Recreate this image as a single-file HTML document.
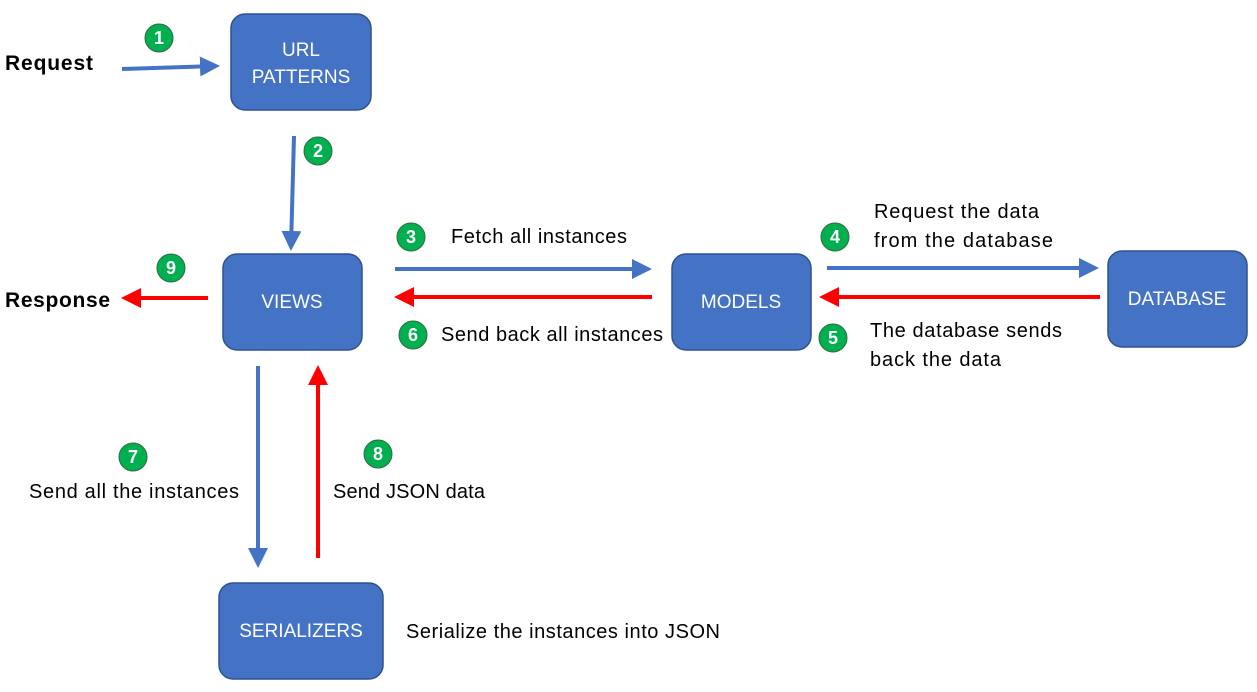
<!DOCTYPE html>
<html><head><meta charset="utf-8"><style>
html,body{margin:0;padding:0;background:#fff;}
svg{display:block}
text{font-family:"Liberation Sans",sans-serif;}
</style></head><body>
<svg width="1257" height="692" viewBox="0 0 1257 692" xmlns="http://www.w3.org/2000/svg">
<defs>
<marker id="ab" markerWidth="5" markerHeight="5" refX="4" refY="2.5" orient="auto" markerUnits="strokeWidth"><path d="M0,0 L5,2.5 L0,5z" fill="#4472C4"/></marker>
<marker id="ar" markerWidth="5" markerHeight="5" refX="4" refY="2.5" orient="auto" markerUnits="strokeWidth"><path d="M0,0 L5,2.5 L0,5z" fill="#FF0000"/></marker>
</defs>
<g fill="#4472C4" stroke="#2F528F" stroke-width="1.5">
<rect x="231" y="14" width="140" height="96" rx="14"/>
<rect x="223" y="254" width="139" height="96" rx="14"/>
<rect x="672" y="254" width="139" height="96" rx="14"/>
<rect x="1108" y="251" width="139" height="96" rx="14"/>
<rect x="219" y="583" width="164" height="96" rx="14"/>
</g>
<g fill="#fff" font-size="19" text-anchor="middle">
<text x="301" y="56">URL</text>
<text x="301" y="83">PATTERNS</text>
<text x="292" y="308">VIEWS</text>
<text x="741" y="308">MODELS</text>
<text x="1177" y="305">DATABASE</text>
<text x="301" y="637">SERIALIZERS</text>
</g>
<g stroke-width="4" fill="none">
<line x1="122" y1="69" x2="216" y2="66" stroke="#4472C4" marker-end="url(#ab)"/>
<line x1="294" y1="136" x2="291" y2="247" stroke="#4472C4" marker-end="url(#ab)"/>
<line x1="395" y1="269" x2="648" y2="269" stroke="#4472C4" marker-end="url(#ab)"/>
<line x1="827" y1="268" x2="1095" y2="268" stroke="#4472C4" marker-end="url(#ab)"/>
<line x1="652" y1="297" x2="398" y2="297" stroke="#FF0000" marker-end="url(#ar)"/>
<line x1="1100" y1="297" x2="823" y2="297" stroke="#FF0000" marker-end="url(#ar)"/>
<line x1="208" y1="298" x2="125" y2="298" stroke="#FF0000" marker-end="url(#ar)"/>
<line x1="258" y1="366" x2="258" y2="564" stroke="#4472C4" marker-end="url(#ab)"/>
<line x1="318" y1="558" x2="318" y2="369" stroke="#FF0000" marker-end="url(#ar)"/>
</g>
<g fill="#00B050" stroke="#2F6B3F" stroke-width="1">
<circle cx="159" cy="38" r="14"/><circle cx="318" cy="151" r="14"/>
<circle cx="411" cy="237" r="14"/><circle cx="835" cy="237" r="14"/>
<circle cx="833" cy="338" r="14"/><circle cx="413" cy="335" r="14"/>
<circle cx="133" cy="457" r="14"/><circle cx="378" cy="454" r="14"/>
<circle cx="171" cy="268" r="14"/>
</g>
<g fill="#fff" font-size="18" font-weight="bold" text-anchor="middle">
<text x="159" y="44">1</text><text x="318" y="157">2</text>
<text x="411" y="243">3</text><text x="835" y="243">4</text>
<text x="833" y="344">5</text><text x="413" y="341">6</text>
<text x="133" y="463">7</text><text x="378" y="460">8</text>
<text x="171" y="274">9</text>
</g>
<g fill="#000" font-size="20">
<text x="5" y="70" font-weight="bold" font-size="21" textLength="88">Request</text>
<text x="5" y="307" font-weight="bold" font-size="21" textLength="105">Response</text>
<text x="451" y="243" textLength="176">Fetch all instances</text>
<text x="441" y="341" textLength="222">Send back all instances</text>
<text x="874" y="218" textLength="165">Request the data</text>
<text x="874" y="247" textLength="179">from the database</text>
<text x="870" y="337" textLength="192">The database sends</text>
<text x="870" y="366" textLength="131">back the data</text>
<text x="29" y="498" textLength="210">Send all the instances</text>
<text x="333" y="498" textLength="152">Send JSON data</text>
<text x="406" y="638" textLength="314">Serialize the instances into JSON</text>
</g>
</svg>
</body></html>
